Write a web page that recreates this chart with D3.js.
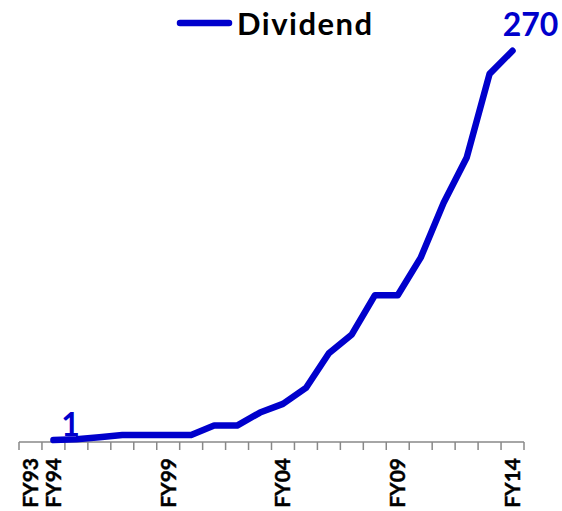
<!DOCTYPE html>
<html>
<head>
<meta charset="utf-8">
<script src="https://cdn.jsdelivr.net/npm/d3@7"></script>
<style>
  body { margin: 0; background: #fff; }
  text { font-family: Lato, "Open Sans", sans-serif; font-weight: bold; }
</style>
</head>
<body>
<div id="chart"></div>
<script>
// fiscal years on the category axis
var years = ["FY93","FY94","FY95","FY96","FY97","FY98","FY99","FY00","FY01","FY02","FY03",
             "FY04","FY05","FY06","FY07","FY08","FY09","FY10","FY11","FY12","FY13","FY14"];
// dividend per year (FY93 has no point)
var dividend = [null, 1, 1.5, 3, 4.5, 4.5, 4.5, 4.5, 11, 11, 20,
                26, 37, 61, 74, 101, 101, 127, 165, 196, 254, 270];
var tickLabels = ["FY93","FY94","FY99","FY04","FY09","FY14"];
var seriesName = "Dividend";
var lineColor = "#0000cc";

var width = 562, height = 511;

var svg = d3.select("#chart").append("svg")
    .attr("width", width)
    .attr("height", height);

var x = d3.scaleBand()
    .domain(years)
    .range([19, 524])
    .padding(0);

var y = d3.scaleLinear()
    .domain([0, 270])
    .range([441.5, 50.7]);

var cx = d => x(d) + x.bandwidth() / 2;

var data = years.map((yr, i) => ({year: yr, value: dividend[i]}));

// axis line + boundary ticks (ticks sit between categories)
var axisG = svg.append("g").attr("class", "x-axis");
axisG.append("line")
    .attr("x1", x.range()[0]).attr("x2", x.range()[1])
    .attr("y1", 442).attr("y2", 442)
    .attr("stroke", "#888").attr("stroke-width", 1.5);

var bounds = years.map(d => x(d)).concat([x.range()[1]]);
axisG.selectAll(".tick-line")
    .data(bounds)
    .enter()
    .append("line")
    .attr("class", "tick-line")
    .attr("x1", d => d).attr("x2", d => d)
    .attr("y1", 442).attr("y2", 450)
    .attr("stroke", "#888").attr("stroke-width", 1.5);

// rotated category labels
axisG.selectAll(".tick-label")
    .data(tickLabels)
    .enter()
    .append("text")
    .attr("class", "tick-label")
    .attr("transform", d => `translate(${cx(d) + 7.5},458) rotate(-90)`)
    .attr("text-anchor", "end")
    .attr("font-size", 21)
    .attr("fill", "#000")
    .attr("stroke", "#000")
    .attr("stroke-width", 0.4)
    .text(d => d);

// the line
svg.append("path")
    .datum(data)
    .attr("fill", "none")
    .attr("stroke", lineColor)
    .attr("stroke-width", 6.5)
    .attr("stroke-linejoin", "round")
    .attr("stroke-linecap", "round")
    .attr("d", d3.line()
        .defined(d => d.value != null)
        .x(d => cx(d.year))
        .y(d => y(d.value)));

// data labels on first and last points
var first = data[1], last = data[data.length - 1];
svg.append("text")
    .attr("x", cx(first.year) + 17)
    .attr("y", y(first.value) - 4)
    .attr("text-anchor", "middle")
    .attr("font-size", 32)
    .attr("fill", lineColor)
    .text(first.value);

svg.append("text")
    .attr("x", cx(last.year) + 18)
    .attr("y", y(last.value) - 15)
    .attr("text-anchor", "middle")
    .attr("font-size", 32)
    .attr("fill", lineColor)
    .text(last.value);

// legend
var legend = svg.append("g").attr("class", "legend");
legend.append("line")
    .attr("x1", 180).attr("x2", 229)
    .attr("y1", 23).attr("y2", 23)
    .attr("stroke", lineColor)
    .attr("stroke-width", 6.5)
    .attr("stroke-linecap", "round");
legend.append("text")
    .attr("x", 237)
    .attr("y", 35)
    .attr("font-size", 31)
    .attr("letter-spacing", 1.5)
    .attr("fill", "#000")
    .text(seriesName);
</script>
</body>
</html>
